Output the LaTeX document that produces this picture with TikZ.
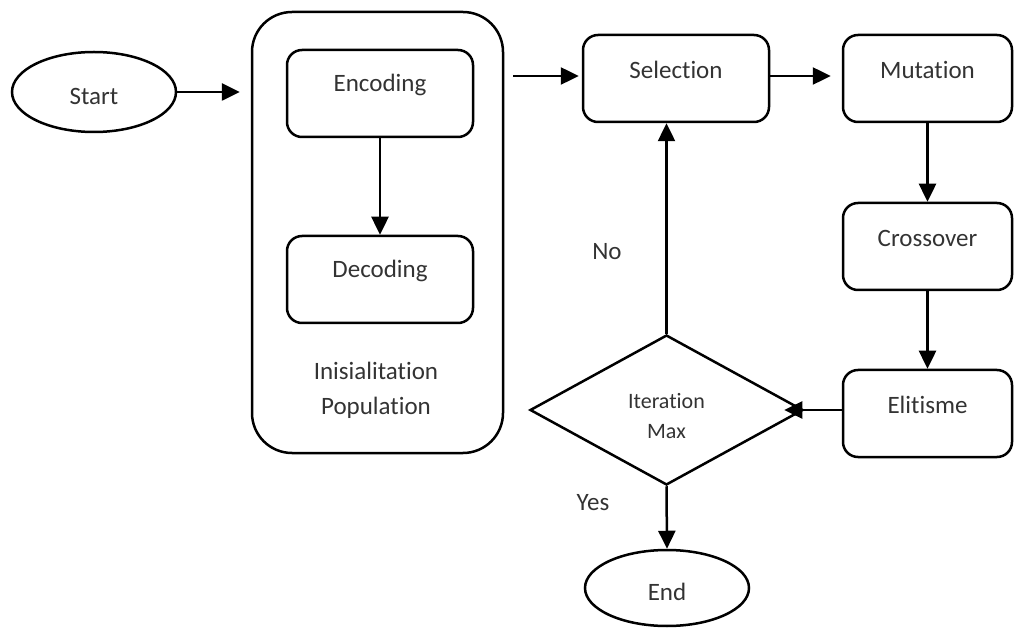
\documentclass[tikz,border=0pt]{standalone}
\usepackage{fontspec}
\setmainfont[Ligatures=NoCommon]{Carlito}
\usetikzlibrary{shapes.geometric,arrows.meta}
\begin{document}
\begin{tikzpicture}[x=1pt,y=-1pt,
  every node/.style={font=\fontsize{25}{30}\selectfont, text=black!80},
  box/.style={draw=black, line width=2.5pt, rounded corners=15pt, minimum width=#1, minimum height=87pt, inner sep=0pt},
  box/.default=186pt,
  oval/.style={draw=black, line width=2.5pt, ellipse, minimum width=164pt, minimum height=#1, inner sep=0pt},
  txt/.style={inner sep=0pt},
  arr/.style={line width=2.5pt, -{Triangle[length=18pt,width=17pt]}}]
\useasboundingbox (0,0) rectangle (1018,628);
% nodes
\node[oval=80pt] (start) at (94,92) {};
\node[txt] at (94,96) {Start};
\draw[line width=2.5pt, rounded corners=40pt] (252,12) rectangle (503,453);
\node[draw=none, minimum width=251pt, minimum height=441pt, inner sep=0pt] (init) at (377.5,232.5) {};
\node[box] (enc) at (380,93.5) {};
\node[txt] at (380,85) {Encoding};
\node[box] (dec) at (380,279.5) {};
\node[txt] at (380,271) {Decoding};
\node[txt, align=center, font=\fontsize{25}{35}\selectfont] at (376,390) {Inisialitation\\Population};
\node[box] (sel) at (676,78.5) {};
\node[txt] at (676,70) {Selection};
\node[box=169pt] (mut) at (927.5,78.5) {};
\node[txt] at (927.5,70) {Mutation};
\node[box=169pt] (cro) at (927.5,246.5) {};
\node[txt] at (927.5,238) {Crossover};
\node[box=169pt] (eli) at (927.5,413.5) {};
\node[txt] at (927.5,405) {Elitisme};
\node[draw=black, line width=2.5pt, diamond, minimum width=273pt, minimum height=150pt, inner sep=0pt] (dia) at (666.5,410) {};
\node[txt, align=center, font=\fontsize{22}{30}\selectfont] at (666.5,416) {Iteration\\Max};
\node[oval=76pt] (end) at (667,588) {};
\node[txt] at (667,592) {End};
\node[txt] (no) at (607,252) {No};
\node[txt] (yes) at (593,503) {Yes};
% connectors
\draw[arr, shorten >=12pt] (start.east) -- (start.east -| init.west);
\coordinate (a1) at (513,76);
\draw[arr, shorten >=3pt] (a1) -- (a1 -| sel.west);
\draw[arr, shorten >=11pt] (sel.east |- a1) -- (a1 -| mut.west);
\draw[arr] (enc.south) -- (dec.north);
\draw[arr] (mut.south) -- (cro.north);
\draw[arr] (cro.south) -- (eli.north);
\draw[arr, shorten >=-20pt] (eli.west |- dia.east) -- (dia.east);
\draw[arr] (dia.north) -- (dia.north |- sel.south);
\draw[arr] (dia.south) -- (end.north);
\end{tikzpicture}
\end{document}
